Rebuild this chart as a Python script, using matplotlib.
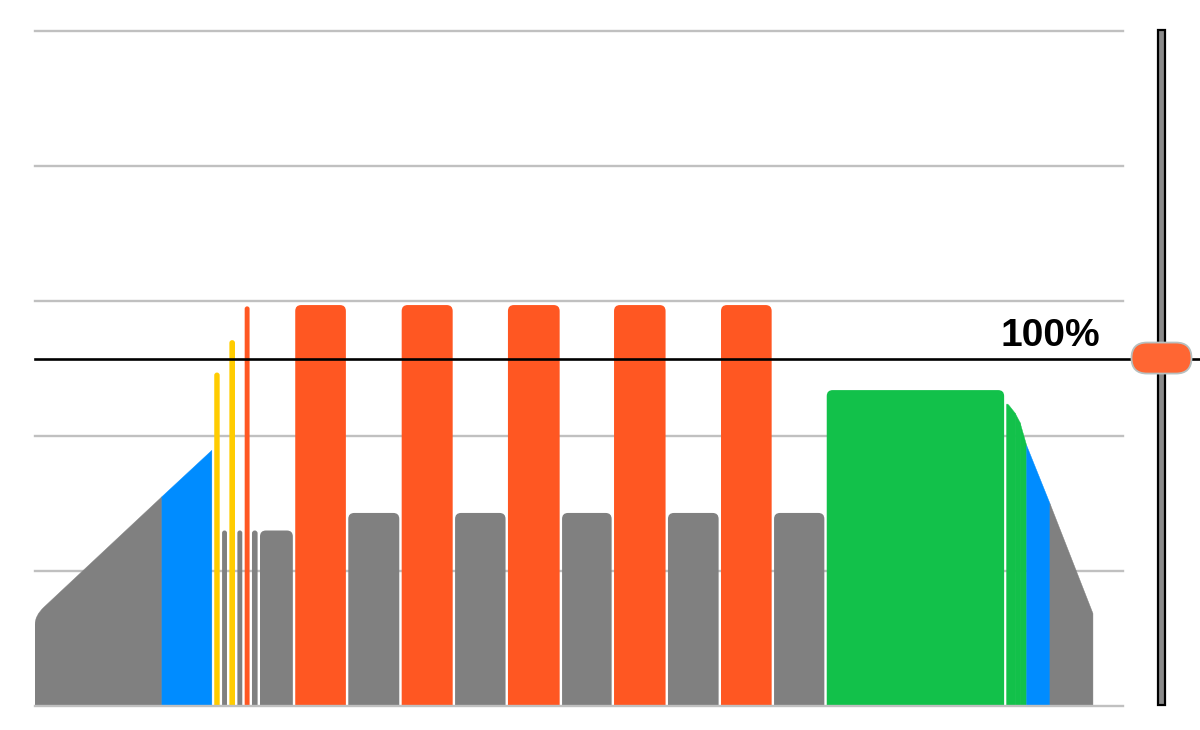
import numpy as np
import matplotlib
matplotlib.use('Agg')
import matplotlib.pyplot as plt
from matplotlib.path import Path
from matplotlib.patches import PathPatch, FancyBboxPatch, Rectangle

ftp = 257  # watts, the 100% line
grid_watts = [0, 100, 200, 300, 400, 500]

GRAY = '#808080'
BLUE = '#008CFF'
YELLOW = '#FFCC00'
ORANGE = '#FF5722'
GREEN = '#12C14A'

# warm-up ramp (minutes, watts), colour per piece
warm_t = [0.0, 7.13, 10.07]
warm_p = [67, 155, 191]
warm_c = [GRAY, BLUE]

# steady intervals
block_start = [10.07, 10.51, 10.92, 11.37, 11.78, 12.19, 12.64, 14.62, 17.60, 20.60,
               23.60, 26.57, 29.61, 32.53, 35.56, 38.54, 41.52, 44.48]
block_end = block_start[1:] + [54.58]
block_power = [247, 130, 271, 130, 296, 130, 130, 297, 143, 297,
               143, 297, 143, 297, 143, 297, 143, 234]
block_color = [YELLOW, GRAY, YELLOW, GRAY, ORANGE, GRAY, GRAY, ORANGE, GRAY, ORANGE,
               GRAY, ORANGE, GRAY, ORANGE, GRAY, ORANGE, GRAY, GREEN]

# cool-down ramp
cool_t = [54.58, 55.06, 55.34, 55.71, 57.02, 59.57]
cool_p = [225, 217, 210, 193, 150, 64]
cool_c = [GREEN, GREEN, GREEN, BLUE, GRAY]

sx = 17.8   # px per minute
sy = 1.35   # px per watt
gap = 2.4 / sx

fig = plt.figure(figsize=(12, 7.3), dpi=100)
ax = fig.add_axes([35/1200, 24/730, 1087.7/1200, 675/730])
ax.set_xlim(0, 1087.7/sx)
ax.set_ylim(0, 500)
ax.axis('off')


def shape(x0, x1, y0, y1, r_left, r_right, color, ec='none', lw=0):
    w = x1 - x0
    rx_l = min(r_left/sx, w/2)
    rx_r = min(r_right/sx, w/2)
    ry_l = rx_l*sx/sy
    ry_r = rx_r*sx/sy
    slope = (y1 - y0)/w
    verts = [(x0, 0)]
    codes = [Path.MOVETO]
    if rx_l > 0:
        verts += [(x0, y0 - ry_l), (x0, y0), (x0 + rx_l, y0 + slope*rx_l)]
        codes += [Path.LINETO, Path.CURVE3, Path.CURVE3]
    else:
        verts += [(x0, y0)]
        codes += [Path.LINETO]
    if rx_r > 0:
        verts += [(x1 - rx_r, y1 - slope*rx_r), (x1, y1), (x1, y1 - ry_r)]
        codes += [Path.LINETO, Path.CURVE3, Path.CURVE3]
    else:
        verts += [(x1, y1)]
        codes += [Path.LINETO]
    verts += [(x1, 0), (x0, 0)]
    codes += [Path.LINETO, Path.CLOSEPOLY]
    ax.add_patch(PathPatch(Path(verts, codes), fc=color, ec=ec, lw=lw, zorder=2))


def ramp(ts, ps, cs, r_first):
    for i in range(len(cs)):
        x0, x1 = ts[i], ts[i+1]
        y0, y1 = ps[i], ps[i+1]
        if i == len(cs) - 1:
            y1 = y0 + (y1 - y0)*(x1 - gap - x0)/(x1 - x0)
            x1 = x1 - gap
        shape(x0, x1, y0, y1, r_first if i == 0 else 0, 0, cs[i], ec=cs[i], lw=0.3)


for g in grid_watts:
    ax.axhline(g, color='#C0C0C0', lw=1.7, zorder=3 if g == 0 else 1, clip_on=False)

ramp(warm_t, warm_p, warm_c, 9)
for s, e, p, c in zip(block_start, block_end, block_power, block_color):
    shape(s, e - gap, p, p, 6, 6, c)
ramp(cool_t, cool_p, cool_c, 3)

# 100% line, runs under the slider to the figure edge
ax.axhline(ftp, xmin=0, xmax=1165/1087.7, color='black', lw=1.9, zorder=4, clip_on=False)
ax.text((1100 - 35)/sx, ftp + 13.5/sy, '100%', ha='right', va='baseline',
        fontsize=28, fontweight='bold', family=['Liberation Sans', 'DejaVu Sans'], zorder=5)

# slider on the right
ov = fig.add_axes([0, 0, 1, 1], facecolor='none')
ov.set_xlim(0, 1200)
ov.set_ylim(0, 730)
ov.axis('off')
knob_y = ax.transData.transform((0, ftp))[1] * 100 / fig.dpi + 1
ov.add_patch(Rectangle((1157.5, 25), 7.5, 675.5, fc='#8A8A8A', ec='black', lw=1.6, zorder=1))
ov.add_patch(FancyBboxPatch((1131.5, knob_y - 15.5), 60, 31,
                            boxstyle='round,pad=0,rounding_size=15.5',
                            fc='#FF6633', ec='#B8C0C0', lw=1.3, zorder=2))

fig.savefig('out.png', dpi=100)
